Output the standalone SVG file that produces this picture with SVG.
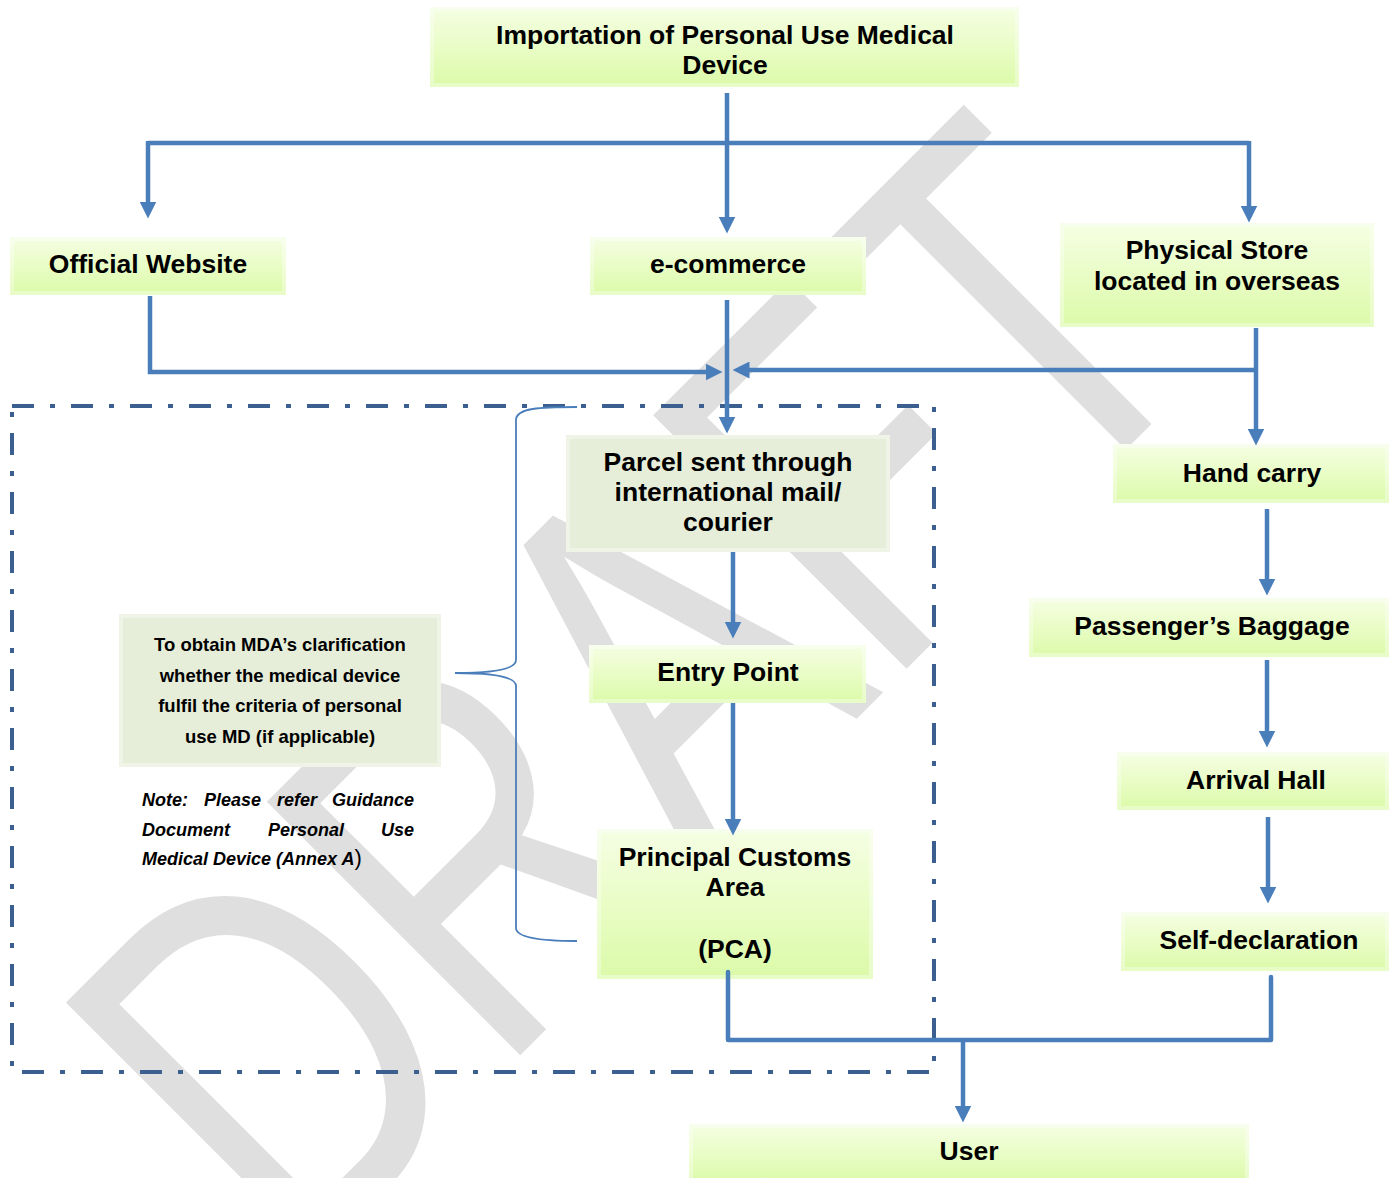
<svg xmlns="http://www.w3.org/2000/svg" width="1389" height="1178" viewBox="0 0 1389 1178">
<defs>
<style>
.t{font-family:"Liberation Sans",Arial,sans-serif;font-weight:bold;font-size:26.5px;text-anchor:middle;fill:#000}
.s{font-family:"Liberation Sans",Arial,sans-serif;font-weight:bold;font-size:18.5px;text-anchor:middle;fill:#000}
.n{font-family:"Liberation Sans",Arial,sans-serif;font-weight:bold;font-style:italic;font-size:18px;fill:#000}
.box{fill:url(#lime)}
.gbox{fill:#e6eed9}
.bev{fill:none;stroke:#ffffff;stroke-opacity:0.35;stroke-width:4}
.c{fill:none;stroke:#4a7ebb;stroke-width:4.5}
.ar{marker-end:url(#ah)}
.wm{font-family:"Liberation Sans",Arial,sans-serif;font-size:521px;fill:#dfdfdf}
</style>
<linearGradient id="lime" x1="0" y1="0" x2="0" y2="1">
<stop offset="0" stop-color="#f5fee4"/>
<stop offset="0.5" stop-color="#e9fdc6"/>
<stop offset="1" stop-color="#dbfaa8"/>
</linearGradient>
<marker id="ah" viewBox="0 0 16 16" refX="8" refY="8" markerWidth="17" markerHeight="17" markerUnits="userSpaceOnUse" orient="auto">
<path d="M0,0 L16,8 L0,16 z" fill="#4a7ebb"/>
</marker>
</defs>
<rect width="1389" height="1178" fill="#ffffff"/>
<g id="watermark">
<text class="wm" x="-920" y="1114" transform="rotate(-45) scale(0.755,1)">DRAFT</text>
</g>
<g id="boundary">
<rect x="12" y="406" width="922" height="666" fill="none" stroke="#3b5f8e" stroke-width="4" stroke-dasharray="22 16 5 16"/>
<path d="M577,407 C540,407 516,408 516,420 V660 C516,670 490,673 455,673 C490,673 516,676 516,686 V928 C516,938 545,941 577,941" fill="none" stroke="#4a7ebb" stroke-width="1.8"/>
</g>
<g id="n-import">
<rect class="box" x="430" y="7" width="589" height="80"/>
<rect class="bev" x="432" y="9" width="585" height="76"/>
<text class="t" x="725" y="44">Importation of Personal Use Medical</text>
<text class="t" x="725" y="74">Device</text>
</g>
<g id="n-website">
<rect class="box" x="10" y="237" width="276" height="58"/>
<rect class="bev" x="12" y="239" width="272" height="54"/>
<text class="t" x="148" y="273">Official Website</text>
</g>
<g id="n-ecommerce">
<rect class="box" x="590" y="237" width="276" height="58"/>
<rect class="bev" x="592" y="239" width="272" height="54"/>
<text class="t" x="728" y="273">e-commerce</text>
</g>
<g id="n-store">
<rect class="box" x="1060" y="223" width="314" height="104"/>
<rect class="bev" x="1062" y="225" width="310" height="100"/>
<text class="t" x="1217" y="259">Physical Store</text>
<text class="t" x="1217" y="290">located in overseas</text>
</g>
<g id="n-parcel">
<rect class="gbox" x="566" y="435" width="324" height="117"/>
<rect class="bev" x="568" y="437" width="320" height="113"/>
<text class="t" x="728" y="471">Parcel sent through</text>
<text class="t" x="728" y="501">international mail/</text>
<text class="t" x="728" y="531">courier</text>
</g>
<g id="n-entry">
<rect class="box" x="589" y="645" width="277" height="58"/>
<rect class="bev" x="591" y="647" width="273" height="54"/>
<text class="t" x="728" y="681">Entry Point</text>
</g>
<g id="n-pca">
<rect class="box" x="597" y="829" width="276" height="150"/>
<rect class="bev" x="599" y="831" width="272" height="146"/>
<text class="t" x="735" y="866">Principal Customs</text>
<text class="t" x="735" y="896">Area</text>
<text class="t" x="735" y="958">(PCA)</text>
</g>
<g id="n-hand">
<rect class="box" x="1113" y="444" width="276" height="59"/>
<rect class="bev" x="1115" y="446" width="272" height="55"/>
<text class="t" x="1252" y="482">Hand carry</text>
</g>
<g id="n-baggage">
<rect class="box" x="1029" y="598" width="360" height="59"/>
<rect class="bev" x="1031" y="600" width="356" height="55"/>
<text class="t" x="1212" y="635">Passenger’s Baggage</text>
</g>
<g id="n-arrival">
<rect class="box" x="1117" y="752" width="272" height="58"/>
<rect class="bev" x="1119" y="754" width="268" height="54"/>
<text class="t" x="1256" y="789">Arrival Hall</text>
</g>
<g id="n-self">
<rect class="box" x="1121" y="912" width="268" height="59"/>
<rect class="bev" x="1123" y="914" width="264" height="55"/>
<text class="t" x="1259" y="949">Self-declaration</text>
</g>
<g id="n-user">
<rect class="box" x="689" y="1124" width="560" height="60"/>
<rect class="bev" x="691" y="1126" width="556" height="56"/>
<text class="t" x="969" y="1160">User</text>
</g>
<g id="n-note">
<rect class="gbox" x="119" y="614" width="322" height="153"/>
<rect class="bev" x="121" y="616" width="318" height="149"/>
<text class="s" x="280" y="651">To obtain MDA’s clarification</text>
<text class="s" x="280" y="682">whether the medical device</text>
<text class="s" x="280" y="712">fulfil the criteria of personal</text>
<text class="s" x="280" y="743">use MD (if applicable)</text>
</g>
<g id="note-text">
<text class="n" x="142" y="806">Note:</text>
<text class="n" x="204" y="806">Please</text>
<text class="n" x="277" y="806">refer</text>
<text class="n" x="414" y="806" text-anchor="end">Guidance</text>
<text class="n" x="142" y="836">Document</text>
<text class="n" x="268" y="836">Personal</text>
<text class="n" x="414" y="836" text-anchor="end">Use</text>
<text class="n" x="142" y="865">Medical Device (Annex A<tspan font-style="normal" font-weight="normal" font-size="22px">)</tspan></text>
</g>
<g id="connectors">
<path class="c ar" d="M727,93 V225"/>
<path class="c" d="M148,143 H1249"/>
<path class="c ar" d="M148,141 V210"/>
<path class="c ar" d="M1249,141 V214"/>
<path class="c ar" d="M150,296 V372 H714"/>
<path class="c ar" d="M727,300 V425"/>
<path class="c ar" d="M1256,328 V437"/>
<path class="c ar" d="M1256,370 H741"/>
<path class="c ar" d="M733,552 V630"/>
<path class="c ar" d="M733,703 V827"/>
<path class="c ar" d="M1267,509 V587"/>
<path class="c ar" d="M1267,660 V739"/>
<path class="c ar" d="M1268,817 V895"/>
<path class="c" d="M728,972 V1040 H1271 V977" stroke-width="6" stroke-linejoin="round" stroke-linecap="round"/>
<path class="c ar" d="M963,1040 V1114"/>
</g>
</svg>
